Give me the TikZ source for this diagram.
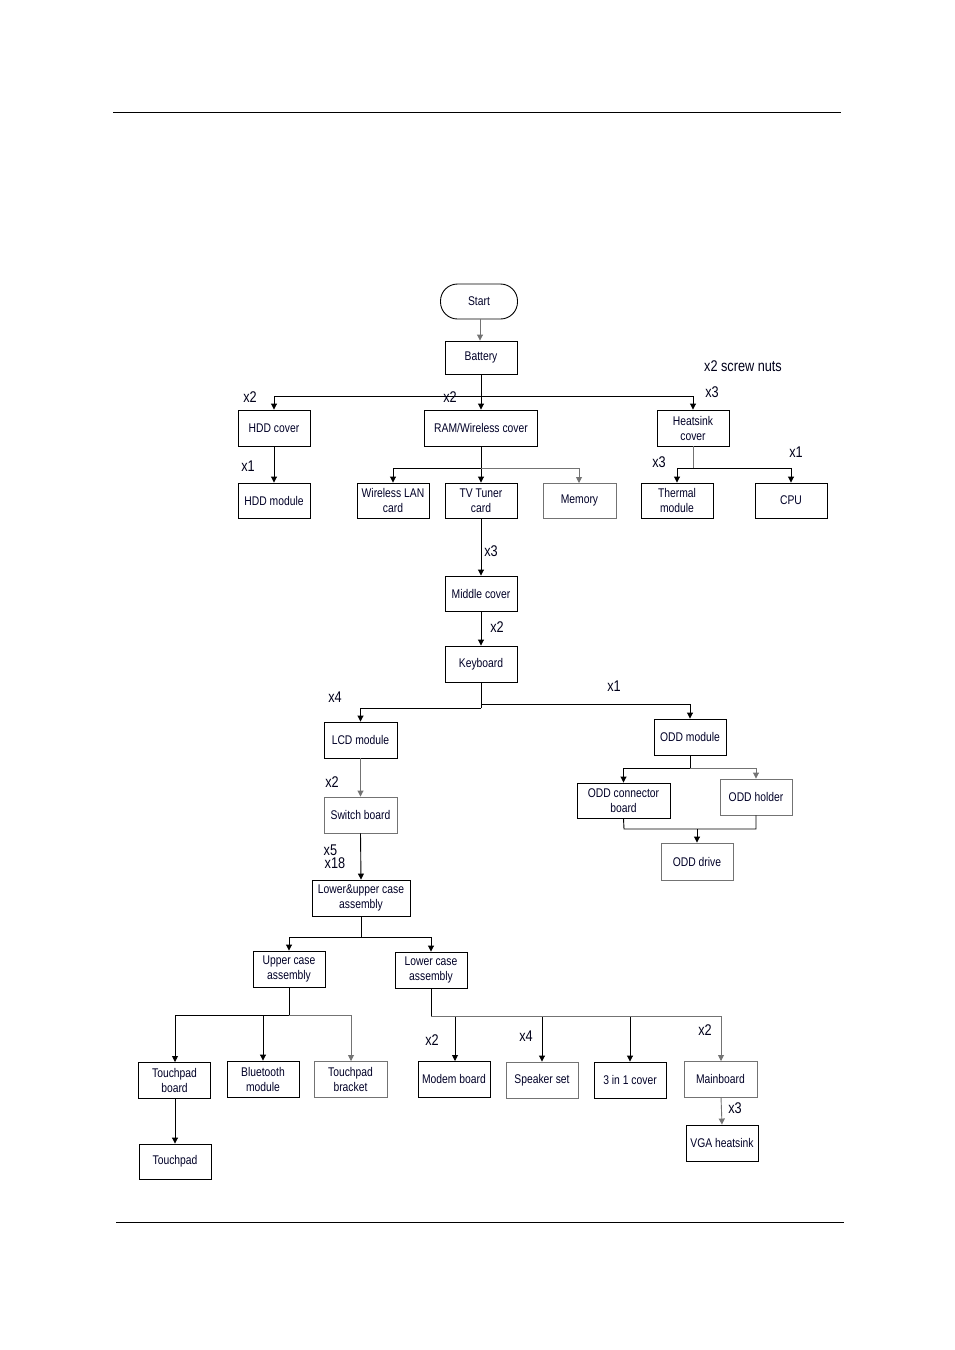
\documentclass[tikz,border=0pt]{standalone}
\usepackage{fontspec}
\usetikzlibrary{arrows.meta}
\newfontfamily\boxfont[FakeStretch=0.82]{Liberation Sans}
\tikzset{
  box/.style={draw=black, line width=0.9pt, minimum width=72pt, minimum height=36pt, inner sep=0pt, align=center,
    font=\boxfont\fontsize{12.6}{15}\selectfont, text=black!85!blue},
  gbox/.style={box, draw=black!55},
  lab/.style={font=\boxfont\fontsize{15.5}{13}\selectfont, inner sep=0pt, text=black!90!blue},
  con/.style={line width=0.9pt, draw=black},
  arr/.style={con, -{Triangle[length=6pt,width=6pt]}},
  garr/.style={arr, draw=black!55},
}
\begin{document}
\begin{tikzpicture}[x=1pt,y=-1pt]
\useasboundingbox (0,0) rectangle (954,1350);
% page rules
\draw[line width=0.9pt] (113,112) -- (841,112);
\draw[line width=0.9pt] (116,1222) -- (844,1222);

% nodes
\node[box, rounded corners=17pt, minimum width=77pt, minimum height=35pt] (start) at (479,301.5) {Start};
\node[box, minimum height=33pt] (bat) at (481,357.5) {Battery};
\node[box] (hddc) at (274,428) {HDD cover};
\node[box, minimum width=113pt] (ram) at (481,428) {RAM/Wireless cover};
\node[box] (heat) at (693,428) {Heatsink\\cover};
\node[box, minimum height=35pt] (hddm) at (274,500.5) {HDD module};
\node[box, minimum height=35pt] (wlan) at (393,500.5) {Wireless LAN\\card};
\node[box, minimum height=35pt] (tv) at (481,500.5) {TV Tuner\\card};
\node[gbox, minimum width=73pt, minimum height=35pt] (mem) at (579.5,500.5) {Memory};
\node[box, minimum height=35pt] (therm) at (677,500.5) {Thermal\\module};
\node[box, minimum height=35pt] (cpu) at (791,500.5) {CPU};
\node[box, minimum height=35pt] (mid) at (481,593.5) {Middle cover};
\node[box] (kb) at (481,664) {Keyboard};
\node[box, minimum width=73pt] (lcd) at (360.5,740) {LCD module};
\node[box] (odd) at (690,737) {ODD module};
\node[gbox, minimum width=73pt] (sw) at (360.5,815) {Switch board};
\node[box, minimum width=98pt] (luc) at (361,898) {Lower\&upper case\\assembly};
\node[box, minimum width=93pt, minimum height=35pt] (oddc) at (623.5,800.5) {ODD connector\\board};
\node[gbox] (oddh) at (756,797) {ODD holder};
\node[gbox, minimum height=37pt] (oddd) at (697,861.5) {ODD drive};
\node[box] (upper) at (289,969) {Upper case\\assembly};
\node[box] (lower) at (431,970) {Lower case\\assembly};
\node[box] (tpb) at (174.5,1080) {Touchpad\\board};
\node[box] (bt) at (263,1079) {Bluetooth\\module};
\node[gbox, minimum width=73pt] (tpbr) at (350.5,1079) {Touchpad\\bracket};
\node[box, minimum height=35pt] (tp) at (175,1161.5) {Touchpad};
\node[box] (modem) at (454,1079) {Modem board};
\node[gbox] (spk) at (542,1080) {Speaker set};
\node[box] (c31) at (630,1080) {3 in 1 cover};
\node[gbox, minimum width=73pt] (main) at (720.5,1079) {Mainboard};
\node[box] (vga) at (722,1143) {VGA heatsink};

% junction coordinates
\coordinate (jstart) at (480,319);
\coordinate (jbat) at (481,396);
\coordinate (jram) at (481,468);
\coordinate (jheat) at (693,468);
\coordinate (jkbR) at (481,704);
\coordinate (jkbL) at (481,708);
\coordinate (jodd) at (690,768);
\coordinate (joddb) at (624,829);
\coordinate (joddd) at (697,829);
\coordinate (jluc) at (361,937);
\coordinate (jup) at (289,1015);
\coordinate (jlow) at (431,1016);

% connectors
\draw[garr] (jstart) -- (jstart |- bat.north);
\draw[con] (bat.south) -- (jbat);
\draw[arr] (jbat) -| (hddc.north);
\draw[arr] (jbat) -- (ram.north);
\draw[arr] (jbat) -| (heat.north);
\draw[arr] (hddc.south) -- (hddm.north);
\draw[con] (ram.south) -- (jram);
\draw[arr] (jram) -| (wlan.north);
\draw[arr] (jram) -- (tv.north);
\draw[garr] (jram) -| (579,483);
\draw[con, draw=black!55] (heat.south) -- (jheat);
\draw[arr] (jheat) -| (therm.north);
\draw[arr] (jheat) -| (cpu.north);
\draw[arr] (tv.south) -- (mid.north);
\draw[arr] (mid.south) -- (kb.north);
\draw[con] (kb.south) -- (jkbL);
\draw[arr] (jkbL) -| (lcd.north);
\draw[arr] (jkbR) -| (odd.north);
\draw[garr] (lcd.south) -- (sw.north);
\draw[arr] (sw.south) -- (luc.north);
\draw[con] (odd.south) -- (jodd);
\draw[arr] (jodd) -| (oddc.north);
\draw[garr] (jodd) -| (oddh.north);
\draw[con] (oddc.south) -- (joddb) -| (oddh.south);
\draw[arr] (joddd) -- (oddd.north);
\draw[con] (luc.south) -- (jluc);
\draw[arr] (jluc) -| (upper.north);
\draw[arr] (jluc) -| (lower.north);
\draw[con] (upper.south) -- (jup);
\draw[arr] (jup) -| (175,1062);
\draw[arr] (jup) -| (bt.north);
\draw[garr] (jup) -| (351,1061);
\draw[arr] (175,1098) -- (tp.north);
\draw[con] (lower.south) -- (jlow);
\draw[arr] (jlow) -| (455,1061);
\draw[arr] (jlow) -| (spk.north);
\draw[arr] (jlow) -| (c31.north);
\draw[garr] (jlow) -| (721,1061);
\draw[garr] (721,1097) -- (vga.north);

% quantity labels
\node[lab] at (250,397) {x2};
\node[lab] at (450,397) {x2};
\node[lab] at (712,392) {x3};
\node[lab] at (743,366) {x2 screw nuts};
\node[lab] at (248,466) {x1};
\node[lab] at (659,462) {x3};
\node[lab] at (796,452) {x1};
\node[lab] at (491,551) {x3};
\node[lab] at (497,627) {x2};
\node[lab] at (335,697) {x4};
\node[lab] at (614,686) {x1};
\node[lab] at (332,782) {x2};
\node[lab, anchor=west] at (323.5,850) {x5};
\node[lab, anchor=west] at (324.5,863) {x18};
\node[lab] at (432,1040) {x2};
\node[lab] at (526,1036) {x4};
\node[lab] at (705,1030) {x2};
\node[lab] at (735,1108) {x3};
\end{tikzpicture}
\end{document}
